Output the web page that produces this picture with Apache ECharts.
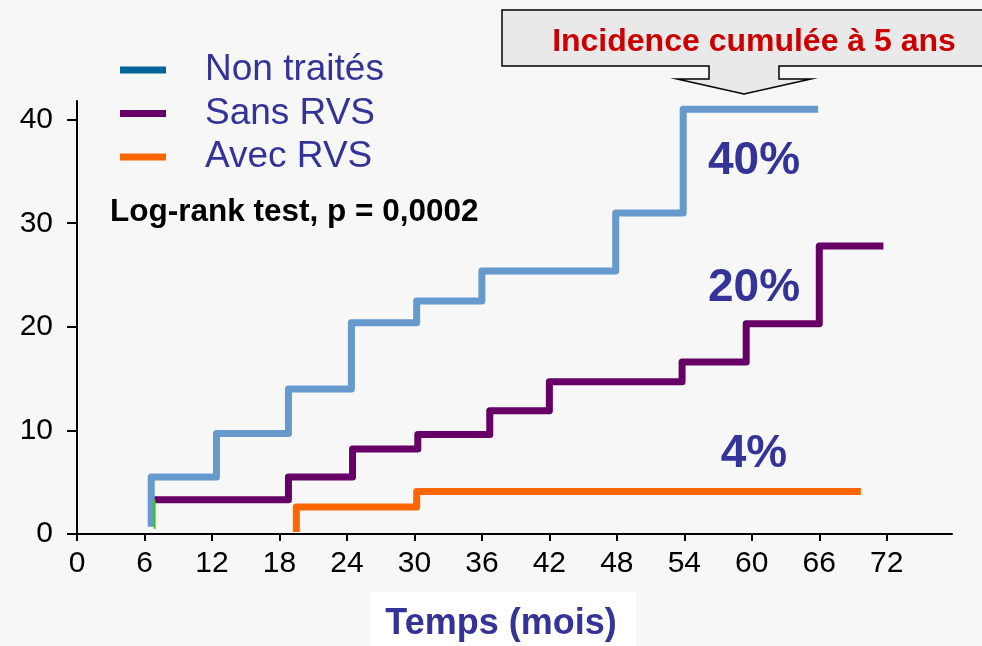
<!DOCTYPE html>
<html>
<head>
<meta charset="utf-8">
<script src="https://cdn.jsdelivr.net/npm/echarts@6/dist/echarts.min.js"></script>
<style>
  html, body { margin: 0; padding: 0; background: #f7f7f7; }
  #chart { width: 982px; height: 646px; }
</style>
</head>
<body>
<div id="chart"></div>
<script>
// axis ticks
const monthTicks = [0, 6, 12, 18, 24, 30, 36, 42, 48, 54, 60, 66, 72];
const incidenceTicks = [0, 10, 20, 30, 40];

// step curves: month of each event and cumulated incidence after it
const nonTraitesMonths = [6.6, 6.6, 12.4, 18.8, 24.4, 30.2, 36.0, 47.9, 53.9, 65.9];
const nonTraitesValues = [0.7, 5.5, 9.7, 14.0, 20.4, 22.5, 25.4, 31.0, 41.0, 41.0];

const sansRvsMonths = [6.9, 18.8, 24.5, 30.3, 36.7, 42.0, 53.8, 59.5, 66.0, 71.7];
const sansRvsValues = [3.3, 5.5, 8.2, 9.6, 11.9, 14.7, 16.6, 20.3, 27.8, 27.8];

const avecRvsMonths = [19.5, 19.5, 30.2, 69.7];
const avecRvsValues = [0.2, 2.6, 4.1, 4.1];

// little green start segment visible at 6 months
const startMonths = [6.9, 6.9];
const startValues = [0.5, 3.3];

const pairs = (xs, ys) => xs.map((x, i) => [x, ys[i]]);

const font = "'Liberation Sans', Arial, sans-serif";

const myChart = echarts.init(document.getElementById('chart'));

function stepSeries(name, xs, ys, color, width) {
    return {
        name: name,
        type: 'line',
        step: 'end',
        data: pairs(xs, ys),
        showSymbol: false,
        symbol: 'none',
        silent: true,
        color: color,
        lineStyle: { color: color, width: width, join: 'round', cap: 'butt' },
    };
}

myChart.setOption({
    backgroundColor: '#f7f7f7',
    animation: false,
    grid: { left: 77, right: 30, top: 101, bottom: 112 },
    legend: {
        orient: 'vertical',
        left: 115,
        top: 45,
        icon: 'rect',
        itemWidth: 46,
        itemHeight: 7,
        itemGap: 3.5,
        selectedMode: false,
        textStyle: {
            fontFamily: font,
            fontSize: 37,
            color: '#333399',
            lineHeight: 40,
            padding: [0, 0, 0, 34],
        },
        data: [
            { name: 'Non traités', itemStyle: { color: '#006699' } },
            { name: 'Sans RVS', itemStyle: { color: '#660066' } },
            { name: 'Avec RVS', itemStyle: { color: '#ff6600' } },
        ],
    },
    xAxis: {
        type: 'value',
        min: 0,
        max: 77.8,
        splitLine: { show: false },
        axisLine: { lineStyle: { color: '#000', width: 2 } },
        axisTick: { show: true, length: 7, lineStyle: { color: '#000', width: 2 }, customValues: monthTicks },
        axisLabel: { fontFamily: font, fontSize: 30, color: '#000', margin: 15, customValues: monthTicks },
    },
    yAxis: {
        type: 'value',
        min: 0,
        max: 41.8,
        splitLine: { show: false },
        axisLine: { show: true, lineStyle: { color: '#000', width: 2 } },
        axisTick: { show: true, length: 10, lineStyle: { color: '#000', width: 2 }, customValues: incidenceTicks },
        axisLabel: { fontFamily: font, fontSize: 30, color: '#000', margin: 24, customValues: incidenceTicks },
    },
    graphic: [
        {
            type: 'polygon',
            shape: {
                points: [[502, 10], [990, 10], [990, 66], [779, 66], [779, 79], [811, 79],
                    [744, 94], [677, 79], [709, 79], [709, 66], [502, 66]],
            },
            style: { fill: '#e9e9e9', stroke: '#000', lineWidth: 1.5 },
        },
        {
            type: 'text',
            x: 754, y: 42,
            style: {
                text: 'Incidence cumulée à 5 ans',
                fontFamily: font, fontSize: 32, fontWeight: 'bold', fill: '#cc0000',
                align: 'center', verticalAlign: 'middle',
            },
        },
        {
            type: 'text',
            x: 110, y: 212,
            style: {
                text: 'Log-rank test, p = 0,0002',
                fontFamily: font, fontSize: 31.5, fontWeight: 'bold', fill: '#000',
                align: 'left', verticalAlign: 'middle',
            },
        },
        {
            type: 'text',
            x: 754, y: 161,
            style: { text: '40%', fontFamily: font, fontSize: 46, fontWeight: 'bold', fill: '#333399', align: 'center', verticalAlign: 'middle' },
        },
        {
            type: 'text',
            x: 754, y: 288,
            style: { text: '20%', fontFamily: font, fontSize: 46, fontWeight: 'bold', fill: '#333399', align: 'center', verticalAlign: 'middle' },
        },
        {
            type: 'text',
            x: 754, y: 454,
            style: { text: '4%', fontFamily: font, fontSize: 46, fontWeight: 'bold', fill: '#333399', align: 'center', verticalAlign: 'middle' },
        },
        {
            type: 'rect',
            shape: { x: 370, y: 592, width: 266, height: 60 },
            style: { fill: '#ffffff' },
        },
        {
            type: 'text',
            x: 501, y: 624,
            style: { text: 'Temps (mois)', fontFamily: font, fontSize: 36, fontWeight: 'bold', fill: '#333399', align: 'center', verticalAlign: 'middle' },
        },
    ],
    series: [
        stepSeries('Non traités', nonTraitesMonths, nonTraitesValues, '#6699cc', 7),
        stepSeries('Sans RVS', sansRvsMonths, sansRvsValues, '#660066', 7),
        stepSeries('Avec RVS', avecRvsMonths, avecRvsValues, '#ff6600', 7),
        stepSeries('début', startMonths, startValues, '#33cc00', 2),
    ],
});
</script>
</body>
</html>
